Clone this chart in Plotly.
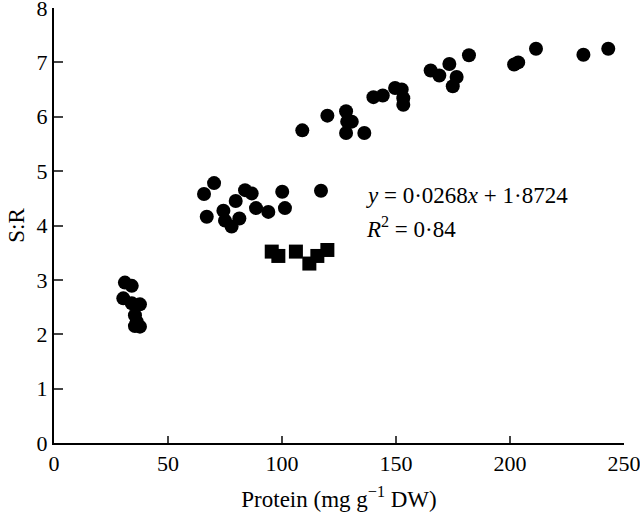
import plotly.graph_objects as go

# Circles (main data set)
circle_x = [31.1, 34.1, 30.4, 34.1, 37.7, 35.5, 36.3, 37.7, 35.5,
            70.2, 65.8, 67.0, 74.3, 79.7, 83.8, 86.7, 75.0, 77.9, 81.3,
            88.6, 94.0, 100.1, 101.3, 117.1,
            108.9, 119.9, 128.1, 128.6, 130.6, 128.1, 136.1, 140.1, 144.2,
            149.6, 152.5, 153.2, 153.2,
            165.2, 169.0, 173.4, 176.6, 174.9, 182.0, 201.8, 203.6, 211.4,
            232.2, 243.1]
circle_y = [2.95, 2.89, 2.66, 2.57, 2.55, 2.35, 2.23, 2.14, 2.15,
            4.78, 4.58, 4.16, 4.27, 4.45, 4.65, 4.59, 4.09, 3.98, 4.13,
            4.32, 4.25, 4.62, 4.32, 4.64,
            5.75, 6.02, 6.10, 5.91, 5.91, 5.70, 5.70, 6.36, 6.39,
            6.53, 6.50, 6.34, 6.22,
            6.85, 6.76, 6.97, 6.73, 6.56, 7.13, 6.96, 7.00, 7.25,
            7.14, 7.25]

# Squares (separate group)
square_x = [95.5, 98.4, 106.1, 112.0, 115.5, 119.9]
square_y = [3.52, 3.44, 3.52, 3.30, 3.44, 3.55]

x_ticks = [0, 50, 100, 150, 200, 250]
y_ticks = [0, 1, 2, 3, 4, 5, 6, 7, 8]

FONT = "Liberation Serif, Times New Roman, serif"
FS_TICK = 22
FS_TEXT = 23

fig = go.Figure()
fig.add_trace(go.Scatter(x=circle_x, y=circle_y, mode="markers",
                         marker=dict(symbol="circle", size=14, color="black"),
                         showlegend=False, cliponaxis=False))
fig.add_trace(go.Scatter(x=square_x, y=square_y, mode="markers",
                         marker=dict(symbol="square", size=14, color="black"),
                         showlegend=False, cliponaxis=False))

fig.add_annotation(x=136.0, y=4.56, xref="x", yref="y", xanchor="left", yanchor="middle",
                   text="<i>y</i> = 0·0268<i>x</i> + 1·8724", showarrow=False,
                   font=dict(family=FONT, size=FS_TEXT, color="black"))
fig.add_annotation(x=136.0, y=3.97, xref="x", yref="y", xanchor="left", yanchor="middle",
                   text="<i>R</i><sup>2</sup> = 0·84", showarrow=False,
                   font=dict(family=FONT, size=FS_TEXT, color="black"))

fig.update_layout(
    width=640, height=513,
    margin=dict(l=54, r=16, t=8, b=70),
    plot_bgcolor="white", paper_bgcolor="white",
    font=dict(family=FONT, size=FS_TICK, color="black"),
    xaxis=dict(range=[0, 250], tickvals=x_ticks, ticks="inside", ticklen=7, tickwidth=2,
               showline=True, linecolor="black", linewidth=2, showgrid=False, zeroline=False,
               automargin=False, ticklabeloverflow="allow",
               title=dict(text="Protein (mg g<sup>−1</sup> DW)", standoff=15,
                          font=dict(family=FONT, size=FS_TEXT)),
               tickfont=dict(family=FONT, size=FS_TICK)),
    yaxis=dict(range=[0, 8], tickvals=y_ticks, ticks="inside", ticklen=9, tickwidth=2,
               showline=True, linecolor="black", linewidth=2, showgrid=False, zeroline=False,
               automargin=False, ticklabeloverflow="allow",
               title=dict(text="S:R", standoff=6, font=dict(family=FONT, size=FS_TEXT)),
               tickfont=dict(family=FONT, size=FS_TICK)),
)

fig.write_html("out.html", config={"displayModeBar": False},
               post_script="document.body.style.margin='0';")
